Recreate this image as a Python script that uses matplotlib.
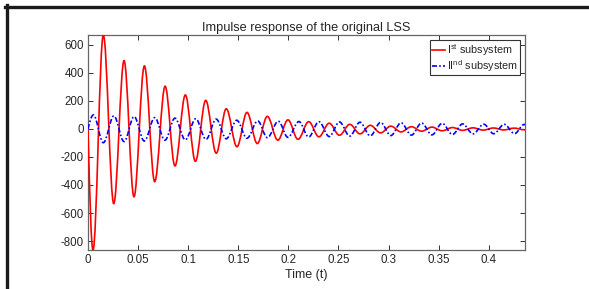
import matplotlib
matplotlib.use("Agg")
import matplotlib.pyplot as plt
from matplotlib.path import Path
from matplotlib.patches import PathPatch
from matplotlib.lines import Line2D

plt.rcParams["font.family"] = ["Liberation Sans", "DejaVu Sans"]
plt.rcParams["mathtext.fontset"] = "custom"
plt.rcParams["mathtext.rm"] = "Liberation Sans"
plt.rcParams["axes.unicode_minus"] = False

# extrema of the two responses (time, value)
t_end = 0.4362

red_t = [0.0, 0.0050, 0.0153, 0.0257, 0.0360, 0.0459, 0.0563, 0.0666, 0.0770,
         0.0868, 0.0972, 0.1072, 0.1175, 0.1280, 0.1380, 0.1487, 0.1587, 0.1690,
         0.1790, 0.1895, 0.1996, 0.2096, 0.2203, 0.2305, 0.2408, 0.2510, 0.2613,
         0.2715, 0.2818, 0.2920, 0.3023, 0.3125, 0.3228, 0.3330, 0.3433, 0.3535,
         0.3638, 0.3740, 0.3843, 0.3945, 0.4048, 0.4150, 0.4253, 0.4355, 0.4458]
red_v = [0, -864, 671, -533, 488, -484, 450, -376, 305, -264, 243, -231, 204,
         -173, 144, -127, 118, -104, 90, -80, 65, -74, 52, -56, 41, -45, 33, -35,
         26, -28, 20, -21, 16, -16, 13, -13, 10, -10, 8, -8, 7, -7, 6, -6, 5]

blue_t = [0.0, 0.0054, 0.0153, 0.0258, 0.0360, 0.0460, 0.0562, 0.0666, 0.0768,
          0.0868, 0.0972, 0.1075, 0.1178, 0.1280, 0.1380, 0.1485, 0.1587, 0.1695,
          0.1790, 0.1900, 0.1996, 0.2105, 0.2203, 0.2305, 0.2408, 0.2510, 0.2613,
          0.2715, 0.2818, 0.2920, 0.3023, 0.3125, 0.3228, 0.3330, 0.3433, 0.3535,
          0.3638, 0.3740, 0.3843, 0.3950, 0.4050, 0.4155, 0.4258, 0.4355, 0.4460]
blue_v = [0, 100, -98, 93, -90, 88, -86, 81, -80, 77, -78, 73, -74, 70, -70, 62,
          -66, 57, -62, 55, -60, 53, -57, 52, -54, 50, -51, 48, -49, 46, -47, 44,
          -44, 42, -42, 40, -39, 36, -35, 34, -34, 33, -33, 32, -31]

x_ticks = [0, 0.05, 0.1, 0.15, 0.2, 0.25, 0.3, 0.35, 0.4]
x_labels = ["0", "0.05", "0.1", "0.15", "0.2", "0.25", "0.3", "0.35", "0.4"]
y_ticks = [-800, -600, -400, -200, 0, 200, 400, 600]

labels = [r"I$^{\mathrm{st}}$ subsystem", r"II$^{\mathrm{nd}}$ subsystem"]


def smooth_path(t, v, a=0.36):
    # cubic bezier pieces between extrema, flat tangent at every extremum
    verts = [(t[0], v[0])]
    codes = [Path.MOVETO]
    for i in range(1, len(t)):
        h = t[i] - t[i - 1]
        if i == 1:
            c1 = (t[0] + h * a, v[0] + (v[1] - v[0]) * 0.56)
        else:
            c1 = (t[i - 1] + h * a, v[i - 1])
        c2 = (t[i] - h * a, v[i])
        verts += [c1, c2, (t[i], v[i])]
        codes += [Path.CURVE4] * 3
    return Path(verts, codes)


fig = plt.figure(figsize=(5.89, 2.89), dpi=100)
ax = fig.add_axes([0.1494, 0.135, 0.7419, 0.744])

dashdot = (0, (3.0, 1.3, 1.0, 1.3))
ax.add_patch(PathPatch(smooth_path(red_t, red_v), fill=False, edgecolor="#ff0000",
                       lw=1.2, capstyle="round", zorder=3))
ax.add_patch(PathPatch(smooth_path(blue_t, blue_v), fill=False, edgecolor="#0000ff",
                       lw=1.2, linestyle=dashdot, zorder=3))

ax.plot([], [], color="#ff0000", lw=1.2, label=labels[0])
ax.plot([], [], color="#0000ff", lw=1.2, linestyle=dashdot, label=labels[1])

ax.set_xlim(0, t_end)
ax.set_ylim(min(red_v), max(red_v))
ax.set_xticks(x_ticks)
ax.set_xticklabels(x_labels)
ax.set_yticks(y_ticks)

txt = "#262626"
for s in ax.spines.values():
    s.set_color("#666666")
    s.set_linewidth(0.9)
ax.tick_params(direction="in", length=3.5, width=0.7, top=True, right=True,
               labelsize=8.3, colors="#333333", labelcolor=txt, pad=3)

ax.set_title("Impulse response of the original LSS", fontsize=9.2, color=txt, pad=3)
ax.set_xlabel("Time (t)", fontsize=9, color=txt, labelpad=2)

leg = ax.legend(loc="upper right", fontsize=7.8, handlelength=1.2, handletextpad=0.2,
                borderpad=0.15, labelspacing=0.0, borderaxespad=0.5,
                fancybox=False, framealpha=1)
leg.get_frame().set_edgecolor("#333333")
leg.get_frame().set_linewidth(0.8)
for t in leg.get_texts():
    t.set_color(txt)

# outer frame of the screenshot (left and top edges)
fig.add_artist(Line2D([6.5 / 589, 6.5 / 589], [0, 1 - 5 / 289], transform=fig.transFigure,
                      color="#1a1a1a", lw=2.4))
fig.add_artist(Line2D([5 / 589, 1], [1 - 6.5 / 289, 1 - 6.5 / 289], transform=fig.transFigure,
                      color="#1a1a1a", lw=2.4))

fig.savefig("out.png", dpi=100)
